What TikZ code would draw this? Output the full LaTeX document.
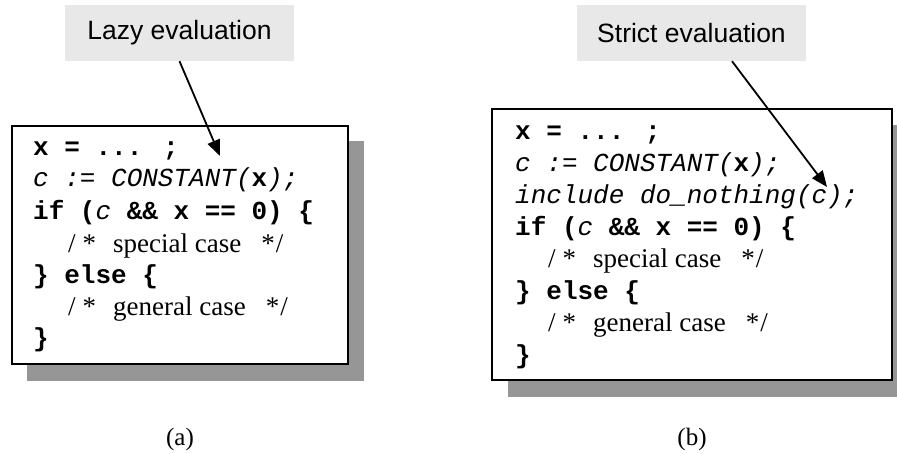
\documentclass[tikz,border=0pt]{standalone}
\usepackage{fontspec}
\setmainfont{Liberation Serif}
\newfontfamily\labelfont{Liberation Sans}
\newfontfamily\codefont{Liberation Mono}
\usetikzlibrary{arrows.meta,calc}

\definecolor{labelgray}{HTML}{E8E8E8}
\definecolor{shadowgray}{HTML}{969696}

% code fragments: bold keywords, oblique annotations, serif comments
\newcommand{\kw}[1]{{\codefont\bfseries #1}}
\newcommand{\an}[1]{{\codefont\itshape #1}}
\newcommand{\cm}[1]{{\fontsize{27}{30}\selectfont /\hspace{7pt}*\hspace{17pt}#1\hspace{20pt}*\hspace{1pt}/}}

\tikzset{
  tag/.style={fill=labelgray, draw=none, inner sep=0pt,
              font=\labelfont\fontsize{26.5}{30}\selectfont},
  codebox/.style={draw=black, fill=white, line width=2pt},
  shadowbox/.style={fill=shadowgray, draw=none},
  codeline/.style={anchor=base west, inner sep=0pt,
                   font=\fontsize{26}{30}\selectfont},
  pointer/.style={line width=1.8pt,
                  -{Triangle[length=16pt,width=13pt]}},
  caption/.style={anchor=base, inner sep=0pt,
                  font=\fontsize{25}{28}\selectfont}
}

\begin{document}
\begin{tikzpicture}[x=1pt,y=-1pt]
\useasboundingbox (0,0) rectangle (897,454);

% ---------- (a) lazy evaluation ----------
\node[tag, minimum width=229pt, minimum height=56pt] (lazy) at (179.5,33) {Lazy evaluation\hspace{3pt}};
\fill[shadowgray] (27,141) rectangle (364,381);
\node[codebox, minimum width=336pt, minimum height=238pt, inner sep=0pt] (codeA) at (180,245) {};

\node[codeline] (a1) at (33,156) {\kw{x = ... ;}};
\node[codeline] (a2) at (33,187) {\an{c := CONSTANT(}\kw{x}\an{);}};
\node[codeline] (a3) at (33,220) {\kw{if (}\an{c}\kw{ \&\& x == 0) \{}};
\node[codeline] (a4) at (68,253) {\cm{special case}};
\node[codeline] (a5) at (33,284) {\kw{\} else \{}};
\node[codeline] (a6) at (68,316) {\cm{general case}};
\node[codeline] (a7) at (33,347) {\kw{\}}};

\coordinate (tipA) at (220,156);
\draw[pointer] (lazy.south) -- (tipA);

\node[caption] (capA) at (180,445) {(a)};

% ---------- (b) strict evaluation ----------
\node[tag, minimum width=229pt, minimum height=56pt] (strict) at (691.5,33) {Strict evaluation};
\fill[shadowgray] (508,125) rectangle (897,397);
\node[codebox, minimum width=400pt, minimum height=271pt, inner sep=0pt] (codeB) at (692,244.5) {};

\node[codeline] (b1) at (515,140) {\kw{x = ... ;}};
\node[codeline] (b2) at (515,172) {\an{c := CONSTANT(}\kw{x}\an{);}};
\node[codeline] (b3) at (515,204) {\an{include do\_nothing(c);}};
\node[codeline] (b4) at (515,236) {\kw{if (}\an{c}\kw{ \&\& x == 0) \{}};
\node[codeline] (b5) at (548,268) {\cm{special case}};
\node[codeline] (b6) at (515,300) {\kw{\} else \{}};
\node[codeline] (b7) at (548,332) {\cm{general case}};
\node[codeline] (b8) at (515,363) {\kw{\}}};

\coordinate (tipB) at (827,187);
\draw[pointer] ([xshift=40.5pt]strict.south) -- (tipB);

\node[caption] (capB) at (692,445) {(b)};
\end{tikzpicture}
\end{document}
